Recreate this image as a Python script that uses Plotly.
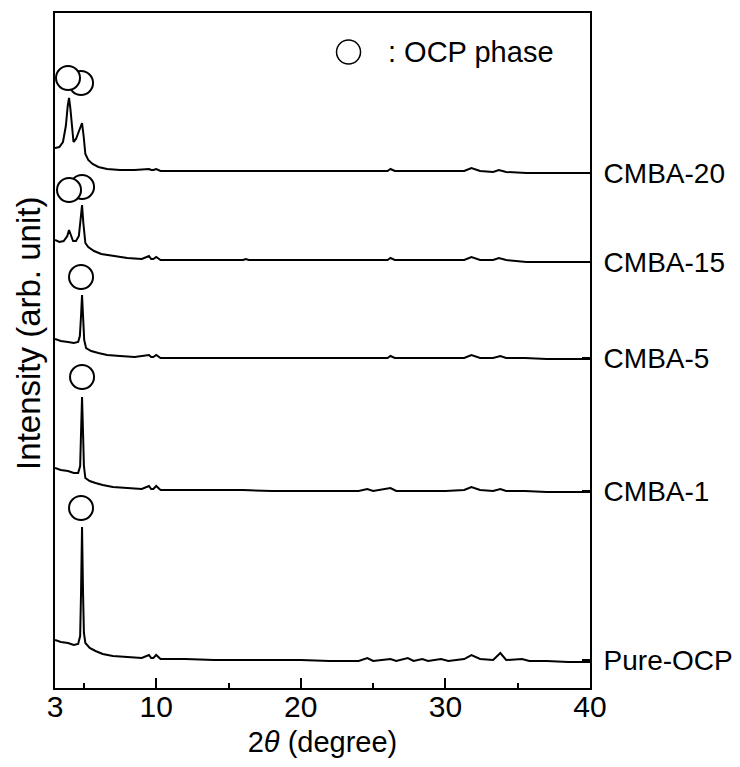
import plotly.graph_objects as go

# ---- data (2theta in degree, intensity in arb. units, offset stacked) ----
pure_x = [3.0, 3.4, 3.9, 4.3, 4.6, 4.74, 4.8, 4.87, 4.94, 5.0, 5.1, 5.4, 5.8, 6.3, 7.0, 8.0,
          9.0, 9.5, 9.65, 9.8, 10.0, 10.3, 12.0, 14.0, 16.0, 18.0, 20.0, 22.0, 24.0, 24.6,
          25.0, 26.2, 26.6, 27.4, 27.8, 28.4, 28.8, 29.7, 30.2, 31.3, 31.8, 32.4, 33.3,
          33.8, 34.2, 35.3, 35.8, 37.0, 38.5, 40.0]
pure_y = [48, 46, 45, 43, 44, 52, 95, 161, 95, 55, 45, 40, 37, 34, 32, 31,
          30, 33, 30, 30, 33, 29, 29, 28, 28, 28, 28, 27, 27, 30,
          27, 29, 27, 30, 27, 29, 27, 29, 27, 29, 33, 29, 28,
          35, 28, 29, 27, 27, 26, 26]

c1_x = [3.0, 3.4, 3.9, 4.3, 4.6, 4.74, 4.8, 4.87, 4.94, 5.0, 5.1, 5.4, 5.8, 6.3, 7.0, 8.0,
        9.0, 9.5, 9.65, 9.8, 10.0, 10.3, 12.0, 14.0, 16.0, 18.0, 20.0, 22.0, 24.0, 24.6,
        25.0, 26.2, 26.6, 28.0, 30.0, 31.3, 31.8, 32.4, 33.3, 33.8, 34.2, 35.5, 37.0, 40.0]
c1_y = [220, 218, 217, 215, 215, 222, 255, 291, 255, 222, 210, 207, 205, 203, 201, 200,
        199, 202, 199, 199, 202, 198, 198, 198, 198, 197, 197, 197, 197, 199,
        197, 200, 197, 197, 197, 198, 201, 198, 197, 199, 197, 197, 196, 196]

c5_x = [3.0, 3.4, 3.9, 4.3, 4.6, 4.72, 4.8, 4.87, 4.94, 5.02, 5.15, 5.5, 6.0, 6.6, 7.5, 8.5,
        9.5, 9.65, 9.8, 10.0, 10.3, 12.0, 14.0, 16.0, 18.0, 20.0, 22.0, 24.0, 26.0, 26.2,
        26.5, 28.0, 30.0, 31.3, 31.8, 32.4, 33.3, 33.8, 34.2, 35.5, 37.0, 40.0]
c5_y = [349, 347, 346, 345, 346, 352, 372, 393, 372, 348, 340, 337, 335, 333, 332, 331,
        333, 331, 331, 333, 330, 330, 330, 330, 330, 330, 330, 330, 330, 332,
        330, 330, 330, 330, 333, 330, 330, 332, 330, 330, 329, 329]

c15_x = [3.0, 3.3, 3.6, 3.85, 3.97, 4.1, 4.25, 4.45, 4.65, 4.78, 4.87, 4.96, 5.1, 5.3, 5.7,
         6.2, 7.0, 8.0, 9.0, 9.5, 9.65, 9.8, 10.0, 10.3, 12.0, 14.0, 16.0, 16.2, 16.4,
         18.0, 20.0, 22.0, 24.0, 26.0, 26.2, 26.5, 28.0, 30.0, 31.3, 31.8, 32.4, 33.3,
         33.7, 34.2, 35.6, 37.0, 40.0]
c15_y = [448, 446, 447, 452, 458, 452, 447, 447, 452, 470, 483, 465, 445, 441, 437,
         434, 432, 430, 429, 432, 429, 429, 431, 428, 428, 428, 428, 429, 428,
         428, 428, 428, 428, 428, 430, 428, 428, 428, 428, 431, 428, 428,
         430, 428, 426, 426, 426]

c20_x = [3.0, 3.3, 3.55, 3.75, 3.88, 3.97, 4.06, 4.18, 4.28, 4.45, 4.62, 4.75, 4.87, 4.98,
         5.1, 5.3, 5.6, 6.0, 6.6, 7.5, 8.5, 9.5, 9.65, 9.8, 10.0, 10.3, 12.0, 14.0, 16.0,
         18.0, 20.0, 22.0, 24.0, 26.0, 26.2, 26.5, 28.0, 30.0, 31.3, 31.8, 32.4, 33.3,
         33.7, 34.2, 35.6, 37.0, 40.0]
c20_y = [540, 541, 546, 562, 582, 590, 580, 556, 546, 549, 556, 562, 565, 552,
         534, 528, 524, 521, 519, 518, 518, 519, 518, 518, 519, 517, 517, 517, 517,
         517, 517, 517, 517, 517, 519, 517, 517, 517, 517, 520, 517, 516,
         518, 516, 515, 515, 515]

series_names = ["Pure-OCP", "CMBA-1", "CMBA-5", "CMBA-15", "CMBA-20"]
baseline_levels = [28, 197, 330, 426, 515]

# OCP phase markers (circle positions)
circle_x = [4.80, 4.87, 4.80, 4.87, 3.97, 4.80, 3.90]
circle_y = [180, 311, 411, 501, 498, 605, 610]

legend_circle_x = [23.3]
legend_circle_y = [636]

FONT = "Liberation Sans, Arial, sans-serif"

fig = go.Figure()
for xs, ys, nm in [(pure_x, pure_y, series_names[0]), (c1_x, c1_y, series_names[1]),
                   (c5_x, c5_y, series_names[2]), (c15_x, c15_y, series_names[3]),
                   (c20_x, c20_y, series_names[4])]:
    fig.add_trace(go.Scatter(x=xs, y=ys, mode="lines", name=nm,
                             line=dict(color="black", width=2), showlegend=False))

fig.add_trace(go.Scatter(x=circle_x, y=circle_y, mode="markers", showlegend=False,
                         marker=dict(symbol="circle", size=24, color="white",
                                     line=dict(color="black", width=2))))
fig.add_trace(go.Scatter(x=legend_circle_x, y=legend_circle_y, mode="markers", showlegend=False,
                         marker=dict(symbol="circle", size=24, color="white",
                                     line=dict(color="black", width=1.5))))
# invisible trace for right axis
fig.add_trace(go.Scatter(x=[3], y=[0], yaxis="y2", mode="markers", showlegend=False,
                         marker=dict(opacity=0), hoverinfo="skip"))

fig.add_annotation(x=25.9, y=legend_circle_y[0], xref="x", yref="y", text=": OCP phase",
                   showarrow=False, xanchor="left", yanchor="middle",
                   font=dict(family=FONT, size=29, color="black"))

# y-axis title as a rotated annotation (placed slightly above the plot centre)
fig.add_annotation(x=-0.05, y=0.525, xref="paper", yref="paper",
                   text="Intensity (arb. unit)", textangle=-90, showarrow=False,
                   xanchor="center", yanchor="middle",
                   font=dict(family=FONT, size=33, color="black"))

# page body has an 8px default margin, so the figure is sized to fit the window
fig.update_layout(
    width=732, height=759,
    margin=dict(l=47, r=150, t=5, b=79, autoexpand=False),
    plot_bgcolor="white", paper_bgcolor="white",
    font=dict(family=FONT, color="black"),
    xaxis=dict(range=[3, 40], tickvals=[3, 10, 20, 30, 40], ticks="inside", ticklen=10,
               tickwidth=1.5, tickcolor="black", showline=True, linecolor="black",
               linewidth=2, mirror=True, showgrid=False, zeroline=False, automargin=False,
               tickfont=dict(size=30, family=FONT), ticklabelstandoff=-9,
               minor=dict(tickvals=[5, 15, 25, 35], ticks="inside", ticklen=5,
                          tickwidth=1.5, tickcolor="black", showgrid=False),
               title=dict(text="2<i>θ</i> (degree)", font=dict(size=29, family=FONT), standoff=10)),
    yaxis=dict(range=[0, 675], showticklabels=False, ticks="", showline=True,
               linecolor="black", linewidth=2, showgrid=False, zeroline=False,
               automargin=False),
    yaxis2=dict(range=[0, 675], overlaying="y", side="right", tickvals=baseline_levels,
                ticktext=series_names, ticks="inside", ticklen=8, tickwidth=1.5,
                tickcolor="black", showline=True, linecolor="black", linewidth=2,
                showgrid=False, zeroline=False, ticklabelstandoff=6, automargin=False,
                tickfont=dict(size=28, family=FONT)),
)

fig.write_html("out.html")
